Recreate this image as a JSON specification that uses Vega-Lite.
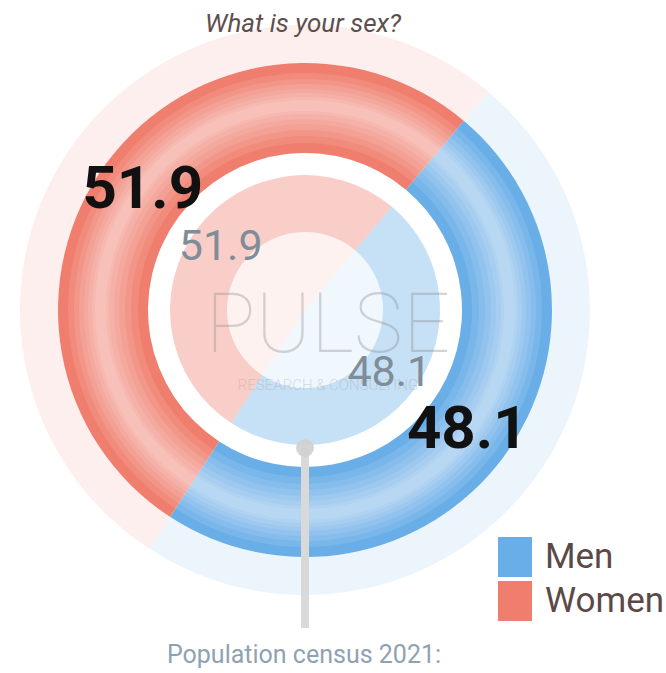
{
  "$schema": "https://vega.github.io/schema/vega-lite/v6.json",
  "width": 666,
  "height": 673,
  "padding": 0,
  "autosize": "none",
  "background": "white",
  "config": {"view": {"stroke": null}},
  "datasets": {
    "sex": [
      {"sex": "Men", "pct": 48.1, "label": "48.1"},
      {"sex": "Women", "pct": 51.9, "label": "51.9"}
    ],
    "census": [
      {"sex": "Men", "pct": 48.1, "label": "48.1"},
      {"sex": "Women", "pct": 51.9, "label": "51.9"}
    ]
  },
  "encoding": {
    "x": {"datum": 0, "type": "quantitative", "scale": {"domain": [-305, 361], "zero": false, "nice": false}, "axis": null},
    "y": {"datum": 0, "type": "quantitative", "scale": {"domain": [-363, 310], "zero": false, "nice": false}, "axis": null}
  },
  "layer": [
    {
      "data": {"name": "sex"},
      "mark": {"type": "arc", "radius": 247, "radius2": 157, "opacity": 1},
      "encoding": {
        "theta": {"field": "pct", "type": "quantitative", "stack": true, "scale": {"range": [0.698, 6.981]}},
        "order": {"field": "sex", "sort": "ascending"},
        "color": {
          "field": "sex", "type": "nominal",
          "scale": {"domain": ["Men", "Women"], "range": ["#6aaee8", "#f07e6e"]},
          "legend": {
            "title": null, "orient": "none", "legendX": 495, "legendY": 537, "padding": 0,
            "symbolType": "M-0.85,-1H0.85V1H-0.85Z", "symbolSize": 1600, "symbolOpacity": 1, "symbolStrokeWidth": 0,
            "labelFont": "Roboto", "labelFontSize": 35, "labelColor": "#5b4848", "labelOffset": 10, "rowPadding": 4, "labelLimit": 200,
            "encode": {"symbols": {"update": {"opacity": {"value": 1}, "fillOpacity": {"value": 1}}}}
          }
        }
      }
    },
    {
      "data": {"name": "sex"},
      "mark": {"type": "arc", "radius": 285, "radius2": 247, "opacity": 0.12},
      "encoding": {
        "theta": {"field": "pct", "type": "quantitative", "stack": true},
        "order": {"field": "sex", "sort": "ascending"},
        "color": {"field": "sex", "type": "nominal"}
      }
    },
    {
      "data": {"name": "census"},
      "mark": {"type": "arc", "radius": 78, "radius2": 0, "opacity": 0.1},
      "encoding": {
        "theta": {"field": "pct", "type": "quantitative", "stack": true},
        "order": {"field": "sex", "sort": "ascending"},
        "color": {"field": "sex", "type": "nominal"}
      }
    },
    {
      "data": {"name": "census"},
      "mark": {"type": "arc", "radius": 135, "radius2": 78, "opacity": 0.38},
      "encoding": {
        "theta": {"field": "pct", "type": "quantitative", "stack": true},
        "order": {"field": "sex", "sort": "ascending"},
        "color": {"field": "sex", "type": "nominal"}
      }
    },
    {
      "data": {"name": "sex"},
      "mark": {"type": "arc", "radius": 237, "radius2": 167, "color": "white", "opacity": 0.1},
      "encoding": {
        "theta": {"field": "pct", "type": "quantitative", "stack": true},
        "order": {"field": "sex", "sort": "ascending"}
      }
    },
    {
      "data": {"name": "sex"},
      "mark": {"type": "arc", "radius": 231, "radius2": 174, "color": "white", "opacity": 0.1},
      "encoding": {
        "theta": {"field": "pct", "type": "quantitative", "stack": true},
        "order": {"field": "sex", "sort": "ascending"}
      }
    },
    {
      "data": {"name": "sex"},
      "mark": {"type": "arc", "radius": 226, "radius2": 180, "color": "white", "opacity": 0.1},
      "encoding": {
        "theta": {"field": "pct", "type": "quantitative", "stack": true},
        "order": {"field": "sex", "sort": "ascending"}
      }
    },
    {
      "data": {"name": "sex"},
      "mark": {"type": "arc", "radius": 221, "radius2": 186, "color": "white", "opacity": 0.1},
      "encoding": {
        "theta": {"field": "pct", "type": "quantitative", "stack": true},
        "order": {"field": "sex", "sort": "ascending"}
      }
    },
    {
      "data": {"name": "sex"},
      "mark": {"type": "arc", "radius": 217, "radius2": 191, "color": "white", "opacity": 0.1},
      "encoding": {
        "theta": {"field": "pct", "type": "quantitative", "stack": true},
        "order": {"field": "sex", "sort": "ascending"}
      }
    },
    {
      "data": {"name": "sex"},
      "mark": {"type": "arc", "radius": 213, "radius2": 196, "color": "white", "opacity": 0.1},
      "encoding": {
        "theta": {"field": "pct", "type": "quantitative", "stack": true},
        "order": {"field": "sex", "sort": "ascending"}
      }
    },
    {
      "data": {"name": "sex"},
      "mark": {"type": "arc", "radius": 210, "radius2": 199, "color": "white", "opacity": 0.1},
      "encoding": {
        "theta": {"field": "pct", "type": "quantitative", "stack": true},
        "order": {"field": "sex", "sort": "ascending"}
      }
    },
    {
      "data": {"values": [{"t": "PULSE"}]},
      "mark": {"type": "text", "font": "Roboto", "fontWeight": 100, "fontSize": 83, "color": "#8a8a8a", "opacity": 0.35, "align": "center", "baseline": "alphabetic"},
      "encoding": {
        "text": {"field": "t"},
        "x": {"datum": 23, "type": "quantitative"},
        "y": {"datum": -42, "type": "quantitative"}
      }
    },
    {
      "data": {"values": [{"t": "RESEARCH & CONSULTING"}]},
      "mark": {"type": "text", "font": "Roboto", "fontWeight": 300, "fontSize": 15, "color": "#9a9a9a", "opacity": 0.3, "align": "center", "baseline": "alphabetic"},
      "encoding": {
        "text": {"field": "t"},
        "x": {"datum": 23, "type": "quantitative"},
        "y": {"datum": -80, "type": "quantitative"}
      }
    },
    {
      "data": {"values": [{"t": "line"}]},
      "mark": {"type": "rule", "color": "#d9d9d9", "strokeWidth": 8},
      "encoding": {
        "x": {"datum": 0, "type": "quantitative"},
        "y": {"datum": -138, "type": "quantitative"},
        "y2": {"datum": -318}
      }
    },
    {
      "data": {"values": [{"t": "dot"}]},
      "mark": {"type": "point", "filled": true, "size": 314, "color": "#cfcfcf", "opacity": 0.9},
      "encoding": {
        "x": {"datum": 0, "type": "quantitative"},
        "y": {"datum": -138, "type": "quantitative"}
      }
    },
    {
      "data": {"name": "census"},
      "mark": {"type": "text", "radius": 105, "font": "Roboto", "fontSize": 43, "color": "#7f8d98", "align": "center", "baseline": "middle"},
      "encoding": {
        "theta": {"field": "pct", "type": "quantitative", "stack": true},
        "order": {"field": "sex", "sort": "ascending"},
        "detail": {"field": "sex"},
        "text": {"field": "label"}
      }
    },
    {
      "data": {"name": "sex"},
      "mark": {"type": "text", "radius": 202, "font": "Roboto", "fontWeight": "bold", "fontSize": 60, "color": "#111111", "align": "center", "baseline": "middle"},
      "encoding": {
        "theta": {"field": "pct", "type": "quantitative", "stack": true},
        "order": {"field": "sex", "sort": "ascending"},
        "detail": {"field": "sex"},
        "text": {"field": "label"}
      }
    },
    {
      "data": {"values": [{"t": "What is your sex?"}]},
      "mark": {"type": "text", "font": "Roboto", "fontStyle": "italic", "fontSize": 26, "color": "#5e4e4e", "align": "center", "baseline": "alphabetic"},
      "encoding": {
        "text": {"field": "t"},
        "x": {"datum": -2, "type": "quantitative"},
        "y": {"datum": 278, "type": "quantitative"}
      }
    },
    {
      "data": {"values": [{"t": "Population census 2021:"}]},
      "mark": {"type": "text", "font": "Roboto", "fontSize": 25, "color": "#8fa2b2", "align": "center", "baseline": "alphabetic"},
      "encoding": {
        "text": {"field": "t"},
        "x": {"datum": -1, "type": "quantitative"},
        "y": {"datum": -353, "type": "quantitative"}
      }
    }
  ]
}
